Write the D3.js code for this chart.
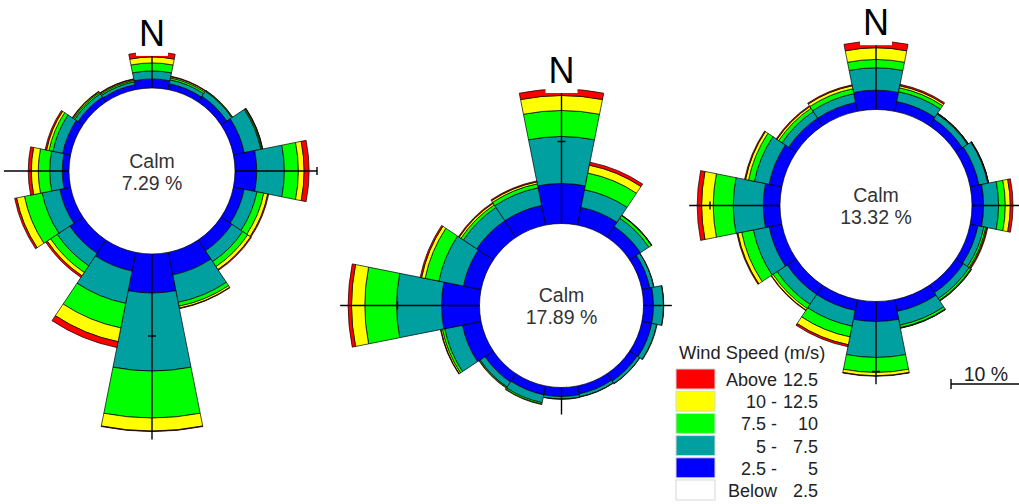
<!DOCTYPE html>
<html>
<head>
<meta charset="utf-8">
<script src="https://cdn.jsdelivr.net/npm/d3@7"></script>
<style>
  body { margin: 0; background: #fff; }
  svg { font-family: "Liberation Sans", Arial, sans-serif; display: block; }
</style>
</head>
<body>
<div id="chart"></div>
<script>
// directions, clockwise from north
const directions = ['N', 'NNE', 'NE', 'ENE', 'E', 'ESE', 'SE', 'SSE',
                    'S', 'SSW', 'SW', 'WSW', 'W', 'WNW', 'NW', 'NNW'];

// speed classes drawn outward from the calm circle
const speedClasses = ['2.5 - 5', '5 - 7.5', '7.5 - 10', '10 - 12.5', 'Above 12.5'];
const speedColors = ['#0000ff', '#00a0a0', '#00ff00', '#ffff00', '#ff0000'];

// legend rows (top to bottom)
const legendLeft = ['Above', '10 -', '7.5 -', '5 -', '2.5 -', 'Below'];
const legendRight = ['12.5', '12.5', '10', '7.5', '5', '2.5'];
const legendColors = ['#ff0000', '#ffff00', '#00ff00', '#00a0a0', '#0000ff', '#ffffff'];

const calmValues = [7.29, 17.89, 13.32];

// frequency (%) per direction: [2.5-5, 5-7.5, 7.5-10, 10-12.5, >12.5]
const rose1 = [
  [1.10, 0.98, 0.98, 0.73, 0.61],
  [0.73, 0.49, 0.24, 0.15, 0.06],
  [0.85, 0.73, 0.09, 0.04, 0.00],
  [1.34, 2.07, 0.12, 0.09, 0.04],
  [2.65, 3.37, 1.71, 0.70, 0.61],
  [1.34, 1.59, 0.85, 0.49, 0.12],
  [1.59, 1.59, 0.73, 0.43, 0.12],
  [2.80, 3.41, 0.49, 0.24, 0.06],
  [4.76, 9.51, 5.73, 1.59, 0.06],
  [2.32, 4.02, 3.05, 1.71, 0.73],
  [1.95, 1.83, 0.98, 0.49, 0.24],
  [1.34, 2.20, 2.20, 0.98, 0.24],
  [0.82, 1.54, 1.39, 0.85, 0.37],
  [0.98, 1.22, 0.49, 0.30, 0.18],
  [0.73, 0.49, 0.18, 0.12, 0.06],
  [0.61, 0.37, 0.18, 0.12, 0.06]
];
const rose2 = [
  [4.88, 5.73, 3.17, 1.83, 0.79],
  [2.20, 2.20, 2.07, 0.98, 0.37],
  [1.59, 1.22, 0.37, 0.06, 0.02],
  [0.98, 0.49, 0.04, 0.00, 0.00],
  [1.22, 1.22, 0.04, 0.00, 0.00],
  [1.22, 0.61, 0.06, 0.00, 0.00],
  [1.10, 0.37, 0.04, 0.00, 0.00],
  [0.98, 0.37, 0.04, 0.00, 0.00],
  [1.10, 0.30, 0.04, 0.00, 0.00],
  [1.10, 0.98, 0.18, 0.06, 0.00],
  [1.22, 0.73, 0.12, 0.06, 0.00],
  [2.32, 2.20, 0.30, 0.18, 0.06],
  [4.63, 5.49, 3.87, 1.62, 0.41],
  [2.20, 3.05, 1.71, 0.44, 0.18],
  [2.44, 1.95, 0.37, 0.24, 0.12],
  [2.44, 2.20, 0.49, 0.24, 0.12]
];
const rose3 = [
  [2.76, 3.20, 1.19, 1.67, 0.94],
  [1.43, 1.43, 0.57, 0.29, 0.21],
  [1.14, 0.86, 0.11, 0.04, 0.01],
  [1.29, 1.29, 0.07, 0.04, 0.01],
  [1.66, 2.14, 0.96, 0.71, 0.39],
  [1.14, 0.86, 0.29, 0.14, 0.14],
  [1.29, 1.00, 0.29, 0.10, 0.04],
  [1.71, 2.00, 0.36, 0.07, 0.03],
  [2.86, 5.14, 2.14, 0.47, 0.07],
  [1.57, 2.29, 1.57, 1.14, 0.29],
  [1.57, 1.71, 0.71, 0.29, 0.07],
  [1.86, 2.29, 1.71, 0.57, 0.14],
  [2.39, 4.29, 2.86, 1.66, 0.63],
  [1.86, 2.14, 0.86, 0.43, 0.14],
  [1.29, 1.14, 0.57, 0.29, 0.14],
  [1.29, 1.29, 0.71, 0.43, 0.14]
];

const scalePct = 10;

/**
 * Layout
 */
const width = 1019;
const height = 504;
const roses = [
  { data: rose1, calm: calmValues[0], cx: 152, cy: 171, r0: 83, tenPct: 82 },
  { data: rose2, calm: calmValues[1], cx: 561.5, cy: 305.5, r0: 82, tenPct: 82 },
  { data: rose3, calm: calmValues[2], cx: 876, cy: 205.5, r0: 96, tenPct: 70 }
];

const svg = d3.select('#chart')
  .append('svg')
  .attr('width', width)
  .attr('height', height);

const step = 360 / directions.length;
const rad = Math.PI / 180;
const arc = d3.arc();

roses.forEach(function(rs) {
  const r = d3.scaleLinear()
    .domain([0, scalePct])
    .range([rs.r0, rs.r0 + rs.tenPct]);

  const g = svg.append('g')
    .attr('transform', `translate(${rs.cx},${rs.cy})`);

  // stacked segments for each direction
  const segments = rs.data.flatMap(function(vals, i) {
    let cum = 0;
    return vals.map(function(v, k) {
      const s = { dir: i, cls: k, from: cum, to: cum + v };
      cum += v;
      return s;
    }).filter(s => s.to > s.from);
  });

  g.selectAll('path.seg')
    .data(segments)
    .join('path')
    .attr('class', 'seg')
    .attr('d', d => arc({
      innerRadius: r(d.from),
      outerRadius: r(d.to),
      startAngle: (d.dir * step - step / 2) * rad,
      endAngle: (d.dir * step + step / 2) * rad
    }))
    .attr('fill', d => speedColors[d.cls])
    .attr('stroke', '#000')
    .attr('stroke-width', 0.7)
    .attr('stroke-linejoin', 'round');

  // axes on the four cardinal directions
  const totals = rs.data.map(v => d3.sum(v));
  const n = directions.length;
  [0, 4, 8, 12].forEach(function(c) {
    const len = d3.max([totals[(c + n - 1) % n], totals[c], totals[(c + 1) % n]]);
    const rEnd = r(len) + 8;
    const ang = c * step * rad;
    const ux = Math.sin(ang), uy = -Math.cos(ang);
    g.append('line')
      .attr('x1', ux * rs.r0).attr('y1', uy * rs.r0)
      .attr('x2', ux * rEnd).attr('y2', uy * rEnd)
      .attr('stroke', '#000')
      .attr('stroke-width', 1.4);
    const ticks = r.ticks(20).filter(t => t > 0 && t % scalePct === 0 && r(t) <= rEnd + 1);
    ticks.forEach(function(t) {
      const rr = r(t);
      g.append('line')
        .attr('x1', ux * rr - uy * 4).attr('y1', uy * rr + ux * 4)
        .attr('x2', ux * rr + uy * 4).attr('y2', uy * rr - ux * 4)
        .attr('stroke', '#000')
        .attr('stroke-width', 1.4);
    });
  });

  // north label with white box
  const nTop = r(totals[0]);
  const label = g.append('text')
    .attr('x', 0)
    .attr('y', -nTop - 6)
    .attr('text-anchor', 'middle')
    .attr('font-size', 36)
    .attr('fill', '#000')
    .text('N');
  const bb = label.node().getBBox();
  g.insert('rect', function() { return label.node(); })
    .attr('x', bb.x - 3)
    .attr('y', bb.y - 2)
    .attr('width', bb.width + 6)
    .attr('height', bb.height + 4)
    .attr('fill', '#fff');

  // calm text
  g.append('text')
    .attr('x', 0).attr('y', -3.5)
    .attr('text-anchor', 'middle')
    .attr('font-size', 19.5)
    .attr('fill', '#333')
    .text('Calm');
  g.append('text')
    .attr('x', 0).attr('y', 18.5)
    .attr('text-anchor', 'middle')
    .attr('font-size', 19.5)
    .attr('fill', '#333')
    .text(d3.format('.2f')(rs.calm) + ' %');
});

/**
 * Legend
 */
const legend = svg.append('g').attr('transform', 'translate(676, 0)');
legend.append('text')
  .attr('x', 3).attr('y', 359)
  .attr('font-size', 18.3)
  .attr('fill', '#222')
  .text('Wind Speed (m/s)');

const rows = legend.selectAll('g.row')
  .data(legendColors)
  .join('g')
  .attr('class', 'row')
  .attr('transform', (d, i) => `translate(0, ${369 + i * 22.2})`);

rows.append('rect')
  .attr('width', 39).attr('height', 20)
  .attr('fill', d => d)
  .attr('stroke', '#d8d8d8')
  .attr('stroke-width', 1);

rows.append('text')
  .attr('x', 101).attr('y', 17)
  .attr('text-anchor', 'end')
  .attr('font-size', 18)
  .attr('fill', '#222')
  .text((d, i) => legendLeft[i]);

rows.append('text')
  .attr('x', 142).attr('y', 17)
  .attr('text-anchor', 'end')
  .attr('font-size', 18)
  .attr('fill', '#222')
  .text((d, i) => legendRight[i]);

/**
 * Scale bar (refers to the right rose)
 */
const barLen = roses[2].tenPct;
const bar = svg.append('g').attr('transform', 'translate(951, 384)');
bar.append('line')
  .attr('x1', 0).attr('x2', barLen)
  .attr('stroke', '#000').attr('stroke-width', 1.4);
bar.append('line')
  .attr('y1', -5).attr('y2', 5)
  .attr('stroke', '#000').attr('stroke-width', 1.4);
bar.append('text')
  .attr('x', barLen / 2).attr('y', -3.5)
  .attr('text-anchor', 'middle')
  .attr('font-size', 19.5)
  .attr('fill', '#222')
  .text(scalePct + ' %');
</script>
</body>
</html>
